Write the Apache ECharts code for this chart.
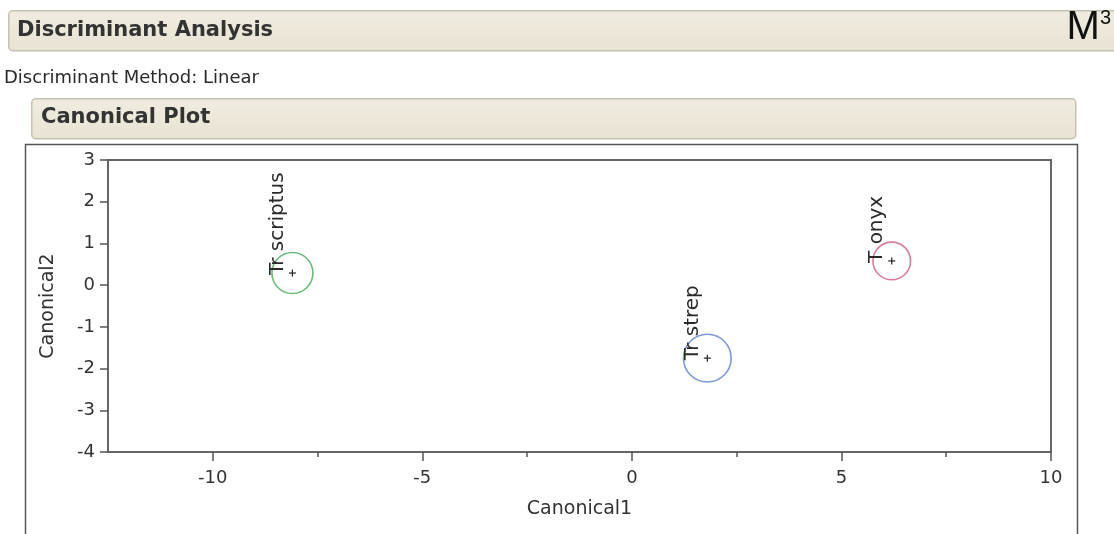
<!DOCTYPE html>
<html>
<head>
<meta charset="utf-8">
<script src="https://cdn.jsdelivr.net/npm/echarts@6/dist/echarts.min.js"></script>
<style>
html,body{margin:0;padding:0;background:#fff;}
#chart{width:1114px;height:534px;}
</style>
</head>
<body>
<div id="chart"></div>
<script>
// ---- data ----
const species = ['Tr scriptus', 'Tr strep', 'T onyx'];
const canonical1 = [-8.1, 1.8, 6.2];
const canonical2 = [0.29, -1.75, 0.58];
const circleRadius = [0.49, 0.57, 0.45];   // radius of each mean's circle, in canonical units
const xMajorTicks = [-10, -5, 0, 5, 10];
const xMinorTicks = [-7.5, -2.5, 2.5, 7.5];
const xRange = [-12.5, 10];
const yRange = [-4, 3];
const speciesColors = ['#6dbb7c', '#7f9ad6', '#d77f98'];

const data = species.map((s, i) => [canonical1[i], canonical2[i], circleRadius[i], i]);

const chart = echarts.init(document.getElementById('chart'), null, {renderer: 'canvas'});
const axisGray = '#666666';
const textGray = '#333333';
const barGradient = new echarts.graphic.LinearGradient(0, 0, 0, 1, [
  {offset: 0, color: '#f0ece0'}, {offset: 1, color: '#e8e3d3'}
]);

const option = {
  backgroundColor: '#ffffff',
  animation: false,
  grid: {left: 108, right: 63, top: 160, bottom: 82, show: true, borderColor: axisGray, borderWidth: 2, backgroundColor: 'transparent'},
  xAxis: [{
    type: 'value', min: xRange[0], max: xRange[1],
    name: 'Canonical1', nameLocation: 'middle', nameGap: 48,
    nameTextStyle: {fontFamily: 'DejaVu Sans', fontSize: 19, color: textGray},
    axisLine: {show: true, onZero: false, lineStyle: {color: axisGray, width: 2}},
    axisTick: {show: true, length: 9, customValues: xMajorTicks, lineStyle: {color: '#555', width: 1.5}},
    axisLabel: {customValues: xMajorTicks, margin: 17, fontFamily: 'DejaVu Sans', fontSize: 18, color: textGray},
    splitLine: {show: false}
  }, {
    type: 'value', min: xRange[0], max: xRange[1], position: 'bottom',
    axisLine: {show: false, onZero: false},
    axisTick: {show: true, length: 5, customValues: xMinorTicks, lineStyle: {color: '#555', width: 1.5}},
    axisLabel: {show: false},
    splitLine: {show: false}
  }],
  yAxis: {
    type: 'value', min: yRange[0], max: yRange[1], interval: 1,
    name: 'Canonical2', nameLocation: 'middle', nameGap: 50, nameRotate: 90,
    nameTextStyle: {fontFamily: 'DejaVu Sans', fontSize: 19, color: textGray},
    axisLine: {show: true, onZero: false, lineStyle: {color: axisGray, width: 2}},
    axisTick: {show: true, length: 8, lineStyle: {color: '#555', width: 1.5}},
    axisLabel: {margin: 13, fontFamily: 'DejaVu Sans', fontSize: 18, color: textGray},
    splitLine: {show: false}
  },
  series: [{
    type: 'custom',
    xAxisIndex: 0,
    data: data,
    clip: false,
    renderItem: function (params, api) {
      const c = api.coord([api.value(0), api.value(1)]);
      const r = api.size([api.value(2), api.value(2)]);
      const rad = (r[0] + r[1]) / 2;
      const idx = api.value(3);
      const col = speciesColors[idx];
      return {
        type: 'group',
        children: [
          {type: 'circle', shape: {cx: c[0], cy: c[1], r: rad}, style: {fill: 'none', stroke: col, lineWidth: 1.6}},
          {type: 'line', shape: {x1: c[0] - 3.5, y1: c[1], x2: c[0] + 3.5, y2: c[1]}, style: {stroke: '#222', lineWidth: 1.2}},
          {type: 'line', shape: {x1: c[0], y1: c[1] - 3.5, x2: c[0], y2: c[1] + 3.5}, style: {stroke: '#222', lineWidth: 1.2}},
          {type: 'text', x: c[0] - 15, y: c[1] + 2, rotation: Math.PI / 2,
            style: {text: species[idx], fontFamily: 'DejaVu Sans', fontSize: 20, fill: '#2a2a2a', align: 'left', verticalAlign: 'middle'}}
        ]
      };
    }
  }],
  graphic: [
    {type: 'rect', left: 8, top: 10, z: -1, shape: {width: 1130, height: 40, r: 4}, style: {fill: barGradient, stroke: '#c6c1b1', lineWidth: 1.5}},
    {type: 'text', left: 17, top: 20, style: {text: 'Discriminant Analysis', fontFamily: 'DejaVu Sans', fontWeight: 'bold', fontSize: 21, fill: '#333'}},
    {type: 'text', right: 3, top: 8, style: {
      text: 'M{s|3}', fontFamily: 'Liberation Sans', fontSize: 40, fill: '#111',
      rich: {s: {fontFamily: 'Liberation Sans', fontSize: 20, verticalAlign: 'top', padding: [0, 0, 16, 0], fill: '#111'}}
    }},
    {type: 'text', left: 4, top: 69, style: {text: 'Discriminant Method: Linear', fontFamily: 'DejaVu Sans', fontSize: 18, fill: '#2a2a2a'}},
    {type: 'rect', left: 31, top: 98, z: -1, shape: {width: 1044, height: 40, r: 4}, style: {fill: barGradient, stroke: '#c6c1b1', lineWidth: 1.5}},
    {type: 'text', left: 41, top: 107, style: {text: 'Canonical Plot', fontFamily: 'DejaVu Sans', fontWeight: 'bold', fontSize: 21, fill: '#333'}},
    {type: 'rect', left: 23, top: 142, z: -1, shape: {width: 1052, height: 420}, style: {fill: 'none', stroke: '#555', lineWidth: 1.5}}
  ]
};
chart.setOption(option);
</script>
</body>
</html>
